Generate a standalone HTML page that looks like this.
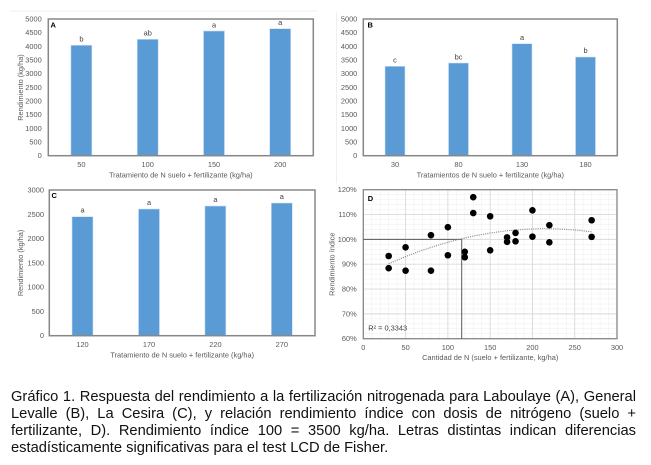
<!DOCTYPE html>
<html><head><meta charset="utf-8">
<style>
html,body{margin:0;padding:0;background:#fff;}
body{width:651px;height:465px;position:relative;overflow:hidden;}
svg{position:absolute;left:0;top:0;}
svg text{font-family:"Liberation Sans",Arial,sans-serif;}
.cap{position:absolute;left:11px;width:625px;font-family:"Liberation Sans",Arial,sans-serif;font-size:14.7px;line-height:17px;height:17px;color:#111;white-space:nowrap;}
.j{text-align:justify;text-align-last:justify;}
</style></head><body>
<svg width="651" height="465" viewBox="0 0 651 465" xmlns="http://www.w3.org/2000/svg">
<!-- faint chart-area borders -->
<line x1="10" y1="11" x2="317" y2="11" stroke="#efefef" stroke-width="1"/>
<line x1="336.5" y1="12" x2="336.5" y2="183" stroke="#efefef" stroke-width="1"/>

<!-- ===== Panel A ===== -->
<g font-size="7.4" fill="#595959" text-anchor="end" dominant-baseline="central">
<text x="41.7" y="155.7">0</text><text x="41.7" y="142.03">500</text><text x="41.7" y="128.36">1000</text><text x="41.7" y="114.69">1500</text><text x="41.7" y="101.02">2000</text><text x="41.7" y="87.35">2500</text><text x="41.7" y="73.68">3000</text><text x="41.7" y="60.01">3500</text><text x="41.7" y="46.34">4000</text><text x="41.7" y="32.67">4500</text><text x="41.7" y="19">5000</text>
</g>
<g fill="#5b9bd5" stroke="#cfe0f2" stroke-width="0.6">
<rect x="70.9" y="45.25" width="21" height="110.45"/>
<rect x="137.2" y="39.26" width="21" height="116.44"/>
<rect x="203.5" y="30.98" width="21" height="124.72"/>
<rect x="269.7" y="28.68" width="21" height="127.02"/>
</g>
<rect x="48.3" y="19" width="265" height="136.7" fill="none" stroke="#878787" stroke-width="1.5"/>
<text x="50.5" y="25" font-size="7.5" font-weight="bold" fill="#000" dominant-baseline="central">A</text>
<g font-size="7.4" fill="#404040" text-anchor="middle" dominant-baseline="central">
<text x="81.4" y="39">b</text><text x="147.7" y="33.2">ab</text><text x="214" y="24.8">a</text><text x="280.2" y="22.3">a</text>
</g>
<g font-size="7.4" fill="#595959" text-anchor="middle" dominant-baseline="central">
<text x="81.4" y="164.3">50</text><text x="147.7" y="164.3">100</text><text x="214" y="164.3">150</text><text x="280.2" y="164.3">200</text>
<text x="180.8" y="175">Tratamiento de N suelo + fertilizante (kg/ha)</text>
<text transform="translate(20.7,87.5) rotate(-90)" x="0" y="0">Rendimiento (kg/ha)</text>
</g>

<!-- ===== Panel B ===== -->
<g font-size="7.4" fill="#595959" text-anchor="end" dominant-baseline="central">
<text x="357.3" y="155.7">0</text><text x="357.3" y="142.03">500</text><text x="357.3" y="128.36">1000</text><text x="357.3" y="114.69">1500</text><text x="357.3" y="101.02">2000</text><text x="357.3" y="87.35">2500</text><text x="357.3" y="73.68">3000</text><text x="357.3" y="60.01">3500</text><text x="357.3" y="46.34">4000</text><text x="357.3" y="32.67">4500</text><text x="357.3" y="19">5000</text>
</g>
<g fill="#5b9bd5" stroke="#cfe0f2" stroke-width="0.6">
<rect x="385" y="66.3" width="20" height="89.4"/>
<rect x="448.5" y="63" width="20" height="92.7"/>
<rect x="512" y="43.7" width="20" height="112"/>
<rect x="575.5" y="57" width="20" height="98.7"/>
</g>
<rect x="363.3" y="19" width="254" height="136.7" fill="none" stroke="#878787" stroke-width="1.5"/>
<text x="367.5" y="25" font-size="7.5" font-weight="bold" fill="#000" dominant-baseline="central">B</text>
<g font-size="7.4" fill="#404040" text-anchor="middle" dominant-baseline="central">
<text x="395" y="60.2">c</text><text x="458.5" y="56.8">bc</text><text x="522" y="37.4">a</text><text x="585.5" y="50.5">b</text>
</g>
<g font-size="7.4" fill="#595959" text-anchor="middle" dominant-baseline="central">
<text x="395" y="164.3">30</text><text x="458.5" y="164.3">80</text><text x="522" y="164.3">130</text><text x="585.5" y="164.3">180</text>
<text x="490.3" y="175">Tratamientos de N suelo + fertilizante (kg/ha)</text>
</g>

<!-- ===== Panel C ===== -->
<g font-size="7.4" fill="#595959" text-anchor="end" dominant-baseline="central">
<text x="44" y="335.7">0</text><text x="44" y="311.42">500</text><text x="44" y="287.13">1000</text><text x="44" y="262.85">1500</text><text x="44" y="238.57">2000</text><text x="44" y="214.28">2500</text><text x="44" y="190">3000</text>
</g>
<g fill="#5b9bd5" stroke="#cfe0f2" stroke-width="0.6">
<rect x="72" y="216.7" width="21" height="119"/>
<rect x="138.5" y="209" width="21" height="126.7"/>
<rect x="204.9" y="206" width="21" height="129.7"/>
<rect x="271.3" y="203" width="21" height="132.7"/>
</g>
<rect x="49.3" y="190" width="265.7" height="145.7" fill="none" stroke="#878787" stroke-width="1.5"/>
<text x="51.5" y="195.5" font-size="7.5" font-weight="bold" fill="#000" dominant-baseline="central">C</text>
<g font-size="7.4" fill="#404040" text-anchor="middle" dominant-baseline="central">
<text x="82.5" y="210.2">a</text><text x="149" y="202.5">a</text><text x="215.4" y="199.5">a</text><text x="281.8" y="196.5">a</text>
</g>
<g font-size="7.4" fill="#595959" text-anchor="middle" dominant-baseline="central">
<text x="82.5" y="344.3">120</text><text x="149" y="344.3">170</text><text x="215.4" y="344.3">220</text><text x="281.8" y="344.3">270</text>
<text x="182.2" y="355">Tratamiento de N suelo + fertilizante (kg/ha)</text>
<text transform="translate(20.7,262.9) rotate(-90)" x="0" y="0">Rendimiento (kg/ha)</text>
</g>

<!-- ===== Panel D ===== -->
<g stroke="#f0f0f0" stroke-width="0.6">
<line x1="371.76" y1="189.7" x2="371.76" y2="338.7"/><line x1="380.21" y1="189.7" x2="380.21" y2="338.7"/><line x1="388.67" y1="189.7" x2="388.67" y2="338.7"/><line x1="397.13" y1="189.7" x2="397.13" y2="338.7"/>
<line x1="414.04" y1="189.7" x2="414.04" y2="338.7"/><line x1="422.5" y1="189.7" x2="422.5" y2="338.7"/><line x1="430.96" y1="189.7" x2="430.96" y2="338.7"/><line x1="439.41" y1="189.7" x2="439.41" y2="338.7"/>
<line x1="456.33" y1="189.7" x2="456.33" y2="338.7"/><line x1="464.78" y1="189.7" x2="464.78" y2="338.7"/><line x1="473.24" y1="189.7" x2="473.24" y2="338.7"/><line x1="481.7" y1="189.7" x2="481.7" y2="338.7"/>
<line x1="498.61" y1="189.7" x2="498.61" y2="338.7"/><line x1="507.07" y1="189.7" x2="507.07" y2="338.7"/><line x1="515.53" y1="189.7" x2="515.53" y2="338.7"/><line x1="523.98" y1="189.7" x2="523.98" y2="338.7"/>
<line x1="540.9" y1="189.7" x2="540.9" y2="338.7"/><line x1="549.35" y1="189.7" x2="549.35" y2="338.7"/><line x1="557.81" y1="189.7" x2="557.81" y2="338.7"/><line x1="566.27" y1="189.7" x2="566.27" y2="338.7"/>
<line x1="583.18" y1="189.7" x2="583.18" y2="338.7"/><line x1="591.64" y1="189.7" x2="591.64" y2="338.7"/><line x1="600.1" y1="189.7" x2="600.1" y2="338.7"/><line x1="608.55" y1="189.7" x2="608.55" y2="338.7"/>
</g>
<g stroke="#f0f0f0" stroke-width="0.6">
<line x1="363.3" y1="333.73" x2="617" y2="333.73"/><line x1="363.3" y1="328.77" x2="617" y2="328.77"/><line x1="363.3" y1="323.8" x2="617" y2="323.8"/><line x1="363.3" y1="318.83" x2="617" y2="318.83"/>
<line x1="363.3" y1="308.9" x2="617" y2="308.9"/><line x1="363.3" y1="303.93" x2="617" y2="303.93"/><line x1="363.3" y1="298.97" x2="617" y2="298.97"/><line x1="363.3" y1="294" x2="617" y2="294"/>
<line x1="363.3" y1="284.06" x2="617" y2="284.06"/><line x1="363.3" y1="279.1" x2="617" y2="279.1"/><line x1="363.3" y1="274.13" x2="617" y2="274.13"/><line x1="363.3" y1="269.17" x2="617" y2="269.17"/>
<line x1="363.3" y1="259.23" x2="617" y2="259.23"/><line x1="363.3" y1="254.27" x2="617" y2="254.27"/><line x1="363.3" y1="249.3" x2="617" y2="249.3"/><line x1="363.3" y1="244.33" x2="617" y2="244.33"/>
<line x1="363.3" y1="234.4" x2="617" y2="234.4"/><line x1="363.3" y1="229.43" x2="617" y2="229.43"/><line x1="363.3" y1="224.47" x2="617" y2="224.47"/><line x1="363.3" y1="219.5" x2="617" y2="219.5"/>
<line x1="363.3" y1="209.57" x2="617" y2="209.57"/><line x1="363.3" y1="204.6" x2="617" y2="204.6"/><line x1="363.3" y1="199.63" x2="617" y2="199.63"/><line x1="363.3" y1="194.67" x2="617" y2="194.67"/>
</g>
<g stroke="#d9d9d9" stroke-width="0.9">
<line x1="405.59" y1="189.7" x2="405.59" y2="338.7"/><line x1="447.87" y1="189.7" x2="447.87" y2="338.7"/><line x1="490.16" y1="189.7" x2="490.16" y2="338.7"/><line x1="532.44" y1="189.7" x2="532.44" y2="338.7"/><line x1="574.73" y1="189.7" x2="574.73" y2="338.7"/>
<line x1="363.3" y1="313.87" x2="617" y2="313.87"/><line x1="363.3" y1="289.03" x2="617" y2="289.03"/><line x1="363.3" y1="264.2" x2="617" y2="264.2"/><line x1="363.3" y1="239.37" x2="617" y2="239.37"/><line x1="363.3" y1="214.53" x2="617" y2="214.53"/>
</g>
<rect x="363.3" y="189.7" width="253.7" height="149" fill="none" stroke="#878787" stroke-width="1.3"/>
<!-- reference lines -->
<line x1="363.3" y1="239.37" x2="461.7" y2="239.37" stroke="#595959" stroke-width="1"/>
<line x1="461.7" y1="239.37" x2="461.7" y2="338.7" stroke="#595959" stroke-width="1"/>
<!-- trendline -->
<polyline fill="none" stroke="#8c8c8c" stroke-width="1.1" stroke-dasharray="1.1 1.1" points="388.67,263.7 405.59,256.55 422.5,250.2 439.41,244.68 456.33,239.96 473.24,236.09 490.16,233.01 507.07,230.75 523.98,229.33 540.9,228.71 557.81,228.91 574.73,229.93 591.64,231.79"/>
<!-- points -->
<g fill="#000">
<circle cx="388.67" cy="256" r="3.3"/><circle cx="388.67" cy="268.17" r="3.3"/>
<circle cx="405.59" cy="247.31" r="3.3"/><circle cx="405.59" cy="270.66" r="3.3"/>
<circle cx="430.96" cy="235.15" r="3.3"/><circle cx="430.96" cy="270.66" r="3.3"/>
<circle cx="447.87" cy="227.2" r="3.3"/><circle cx="447.87" cy="255.26" r="3.3"/>
<circle cx="464.78" cy="251.78" r="3.3"/><circle cx="464.78" cy="257.25" r="3.3"/>
<circle cx="473.24" cy="197.15" r="3.3"/><circle cx="473.24" cy="213.04" r="3.3"/>
<circle cx="490.16" cy="216.27" r="3.3"/><circle cx="490.16" cy="250.29" r="3.3"/>
<circle cx="507.07" cy="237.38" r="3.3"/><circle cx="507.07" cy="241.85" r="3.3"/>
<circle cx="515.53" cy="232.91" r="3.3"/><circle cx="515.53" cy="241.35" r="3.3"/>
<circle cx="532.44" cy="210.31" r="3.3"/><circle cx="532.44" cy="236.64" r="3.3"/>
<circle cx="549.35" cy="225.21" r="3.3"/><circle cx="549.35" cy="242.35" r="3.3"/>
<circle cx="591.64" cy="220.25" r="3.3"/><circle cx="591.64" cy="236.88" r="3.3"/>
</g>
<text x="367.8" y="198.5" font-size="7.5" font-weight="bold" fill="#000" dominant-baseline="central">D</text>
<text x="368.3" y="328" font-size="7.4" fill="#404040" dominant-baseline="central">R² = 0,3343</text>
<g font-size="7.4" fill="#595959" text-anchor="end" dominant-baseline="central">
<text x="356.7" y="189.7">120%</text><text x="356.7" y="214.53">110%</text><text x="356.7" y="239.37">100%</text><text x="356.7" y="264.2">90%</text><text x="356.7" y="289.03">80%</text><text x="356.7" y="313.87">70%</text><text x="356.7" y="338.7">60%</text>
</g>
<g font-size="7.4" fill="#595959" text-anchor="middle" dominant-baseline="central">
<text x="363.3" y="347.3">0</text><text x="405.59" y="347.3">50</text><text x="447.87" y="347.3">100</text><text x="490.16" y="347.3">150</text><text x="532.44" y="347.3">200</text><text x="574.73" y="347.3">250</text><text x="617" y="347.3">300</text>
<text x="490.2" y="357.3">Cantidad de N (suelo + fertilizante, kg/ha)</text>
<text transform="translate(332,264.2) rotate(-90)" x="0" y="0">Rendimiento índice</text>
</g>
</svg>

<div class="cap j" style="top:389px;">Gráfico 1. Respuesta del rendimiento a la fertilización nitrogenada para Laboulaye (A), General</div>
<div class="cap j" style="top:406px;">Levalle (B), La Cesira (C), y relación rendimiento índice con dosis de nitrógeno (suelo +</div>
<div class="cap j" style="top:423px;">fertilizante, D). Rendimiento índice 100 = 3500 kg/ha. Letras distintas indican diferencias</div>
<div class="cap" style="top:440px;">estadísticamente significativas para el test LCD de Fisher.</div>
</body></html>
